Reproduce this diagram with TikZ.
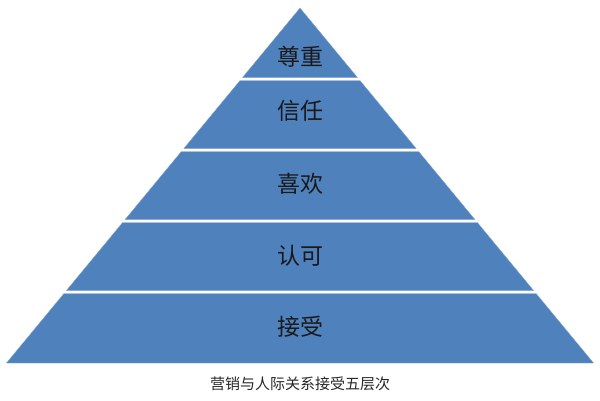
\documentclass[tikz,border=0pt]{standalone}
\usepackage{fontspec}
\newfontfamily\cjk{Noto Sans CJK SC}
\definecolor{azulcapa}{RGB}{79,129,189}
\tikzset{
  capa/.style={fill=azulcapa, draw=azulcapa!70!white, line width=0.4pt},
  etiqueta/.style={font=\cjk\fontsize{23}{23}\selectfont, text=black!90, inner sep=0pt},
  titulo/.style={font=\cjk\fontsize{15}{15}\selectfont, text=black!85, inner sep=0pt}
}
\begin{document}
\begin{tikzpicture}[x=1pt, y=-1pt]
\useasboundingbox (0,0) rectangle (600,400);

% Capas de la piramide
	\foreach \txt/\yl [count=\i from 0] in {尊重/57, 信任/111, 喜欢/184, 认可/256, 接受/327} {
		\pgfmathsetmacro\ya{\i==0 ? 8 : 8+71*\i+1.5}
		\pgfmathsetmacro\yb{\i==4 ? 363 : 8+71*(\i+1)-1.5}
		\pgfmathsetmacro\wa{(\ya-8)*0.8268}
		\pgfmathsetmacro\wb{(\yb-8)*0.8268}
		\draw[capa] (300-\wa,\ya) -- (300+\wa,\ya) -- (300+\wb,\yb) -- (300-\wb,\yb) -- cycle;
		\node[etiqueta] (nivel\i) at (300,\yl) {\txt};
	}

% Pie
\node[titulo] (pie) at (300,384) {营销与人际关系接受五层次};
\end{tikzpicture}
\end{document}
